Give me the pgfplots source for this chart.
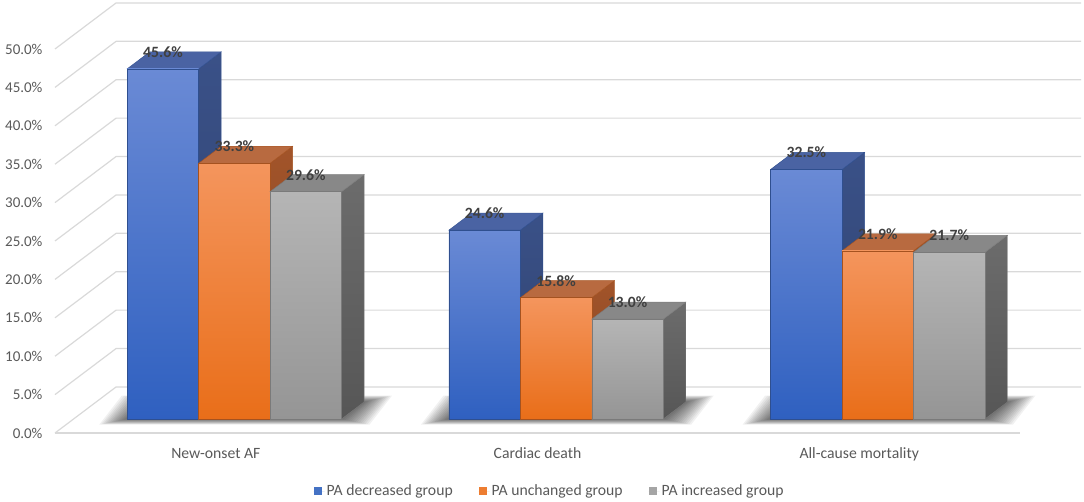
\documentclass[border=0pt]{standalone}
\usepackage{pgfplots}
\pgfplotsset{compat=1.18}
\usepackage{fontspec}
\setmainfont{Carlito}
\definecolor{gridc}{HTML}{D9D9D9}
\definecolor{txt}{HTML}{595959}
\definecolor{lbl}{HTML}{404040}
\definecolor{bFt}{HTML}{6A8AD5}\definecolor{bFb}{HTML}{2F60C0}\definecolor{bT}{HTML}{4A63A3}\definecolor{bS}{HTML}{3A5188}\definecolor{bE}{HTML}{2F4F8F}
\definecolor{oFt}{HTML}{F4955D}\definecolor{oFb}{HTML}{E96E19}\definecolor{oT}{HTML}{B86A40}\definecolor{oS}{HTML}{A2542A}\definecolor{oE}{HTML}{A5521F}
\definecolor{gFt}{HTML}{B5B5B5}\definecolor{gFb}{HTML}{959595}\definecolor{gT}{HTML}{888888}\definecolor{gS}{HTML}{6C6C6C}\definecolor{gE}{HTML}{7A7A7A}
\definecolor{legB}{HTML}{4472C4}\definecolor{legO}{HTML}{ED7D31}\definecolor{legG}{HTML}{A5A5A5}
\newcommand\ff{\fontsize{15}{18}\selectfont}
\newcommand\fg{\fontsize{15.7}{18}\selectfont}
% one 3D bar: #1 left x of front face, #2 value, #3 colour prefix
\newcommand\onebar[3]{%
  \pgfmathsetmacro\xA{#1}%
  \pgfmathsetmacro\xB{#1+0.222}%
  \pgfmathsetmacro\xC{#1+0.0701}%
  \pgfmathsetmacro\xD{#1+0.2921}%
  \pgfmathsetmacro\yA{1.823}%
  \pgfmathsetmacro\yB{1.823+#2}%
  \pgfmathsetmacro\yC{4.04}%
  \pgfmathsetmacro\yD{4.04+#2}%
  \addplot[forget plot, draw=#3E, line width=0.4pt, top color=#3S, bottom color=#3S!80!black] coordinates {(\xB,\yA) (\xD,\yC) (\xD,\yD) (\xB,\yB)} -- cycle;
  \addplot[forget plot, draw=#3E, line width=0.4pt, fill=#3T] coordinates {(\xA,\yB) (\xB,\yB) (\xD,\yD) (\xC,\yD)} -- cycle;
  \addplot[forget plot, draw=#3E, line width=0.4pt, top color=#3Ft, bottom color=#3Fb] coordinates {(\xA,\yA) (\xB,\yA) (\xB,\yB) (\xA,\yB)} -- cycle;
}
% one shadow layer: #1 group centre, #2 expansion in px
\newcommand\shlayer[2]{%
  \pgfmathsetmacro\sA{#1-0.2753-#2*0.00311}%
  \pgfmathsetmacro\sB{#1+0.3907+#2*0.00311}%
  \pgfmathsetmacro\sC{#1+0.4608+#2*0.00311}%
  \pgfmathsetmacro\sD{#1-0.2052-#2*0.00311}%
  \pgfmathsetmacro\tA{1.823-#2*0.026}%
  \pgfmathsetmacro\tB{4.04+#2*0.03}%
  \addplot[forget plot, draw=none, fill=black, fill opacity=0.055] coordinates {(\sA,\tA) (\sB,\tA) (\sC,\tB) (\sD,\tB)} -- cycle;
}
\newcommand\group[4]{%
  \shlayer{#1}{28}\shlayer{#1}{26}\shlayer{#1}{24}\shlayer{#1}{22}\shlayer{#1}{20}\shlayer{#1}{18}\shlayer{#1}{16}%
  \shlayer{#1}{14}\shlayer{#1}{12}\shlayer{#1}{10}\shlayer{#1}{8}\shlayer{#1}{6}\shlayer{#1}{4}\shlayer{#1}{2}%
  \pgfmathsetmacro\gA{#1-0.2753}\onebar{\gA}{#2}{b}%
  \pgfmathsetmacro\gB{#1-0.0533}\onebar{\gB}{#3}{o}%
  \pgfmathsetmacro\gC{#1+0.1687}\onebar{\gC}{#4}{g}%
}
\begin{document}
\begin{tikzpicture}
\begin{axis}[name=ax, scale only axis, width=1026.2pt, height=430.1pt,
  xmin=0, xmax=3.19, ymin=0, ymax=56, clip=false,
  axis line style={draw=none}, major tick length=0pt,
  ytick={0,5,10,15,20,25,30,35,40,45,50},
  yticklabels={0.0\%,5.0\%,10.0\%,15.0\%,20.0\%,25.0\%,30.0\%,35.0\%,40.0\%,45.0\%,50.0\%},
  xtick={0.5,1.5,2.5},
  xticklabels={New-onset AF,Cardiac death,All-cause mortality},
  tick label style={font=\ff, text=txt},
  yticklabel style={xshift=-9pt},
  xticklabel style={anchor=base, yshift=-25pt, font=\fg},
  legend columns=3,
  legend style={draw=none, fill=none, at={(0.482,-0.135)}, anchor=center, font=\fg, text=txt,
    /tikz/every even column/.append style={column sep=24pt}},
  legend image code/.code={\fill[#1] (0pt,-4pt) rectangle (8pt,4pt); \path (0pt,0pt) -- (11pt,0pt);},
]
% walls
\addplot[forget plot, gridc, line width=1.2pt] coordinates {(0,0) (3,0)};
\addplot[forget plot, gridc, line width=1.2pt] coordinates {(3.19,6) (0.19,6) (0,0)};
\addplot[forget plot, gridc, line width=1.2pt] coordinates {(3.19,11) (0.19,11) (0,5)};
\addplot[forget plot, gridc, line width=1.2pt] coordinates {(3.19,16) (0.19,16) (0,10)};
\addplot[forget plot, gridc, line width=1.2pt] coordinates {(3.19,21) (0.19,21) (0,15)};
\addplot[forget plot, gridc, line width=1.2pt] coordinates {(3.19,26) (0.19,26) (0,20)};
\addplot[forget plot, gridc, line width=1.2pt] coordinates {(3.19,31) (0.19,31) (0,25)};
\addplot[forget plot, gridc, line width=1.2pt] coordinates {(3.19,36) (0.19,36) (0,30)};
\addplot[forget plot, gridc, line width=1.2pt] coordinates {(3.19,41) (0.19,41) (0,35)};
\addplot[forget plot, gridc, line width=1.2pt] coordinates {(3.19,46) (0.19,46) (0,40)};
\addplot[forget plot, gridc, line width=1.2pt] coordinates {(3.19,51) (0.19,51) (0,45)};
\addplot[forget plot, gridc, line width=1.2pt] coordinates {(3.19,56) (0.19,56) (0,50)};
% bars
\group{0.5}{45.6}{33.3}{29.6}
\group{1.5}{24.6}{15.8}{13.0}
\group{2.5}{32.5}{21.9}{21.7}
% data labels
\pgfplotsset{every node near coord/.append style={anchor=center, yshift=31pt, font=\fg\bfseries, text=lbl}}
\addplot[forget plot, draw=none, mark=none, nodes near coords, point meta=explicit symbolic]
  coordinates {(0.3357,45.6) [45.6\%] (1.3357,24.6) [24.6\%] (2.3357,32.5) [32.5\%]};
\addplot[forget plot, draw=none, mark=none, nodes near coords, point meta=explicit symbolic]
  coordinates {(0.5577,33.3) [33.3\%] (1.5577,15.8) [15.8\%] (2.5577,21.9) [21.9\%]};
\addplot[forget plot, draw=none, mark=none, nodes near coords, point meta=explicit symbolic]
  coordinates {(0.7797,29.6) [29.6\%] (1.7797,13.0) [13.0\%] (2.7797,21.7) [21.7\%]};
% legend
\addlegendimage{fill=legB, draw=none}\addlegendentry{PA decreased group}
\addlegendimage{fill=legO, draw=none}\addlegendentry{PA unchanged group}
\addlegendimage{fill=legG, draw=none}\addlegendentry{PA increased group}
\end{axis}
\pgfresetboundingbox
\path[use as bounding box] ([shift={(-55pt,-68pt)}]ax.south west) rectangle ([shift={(1029pt,433pt)}]ax.south west);
\end{tikzpicture}
\end{document}
